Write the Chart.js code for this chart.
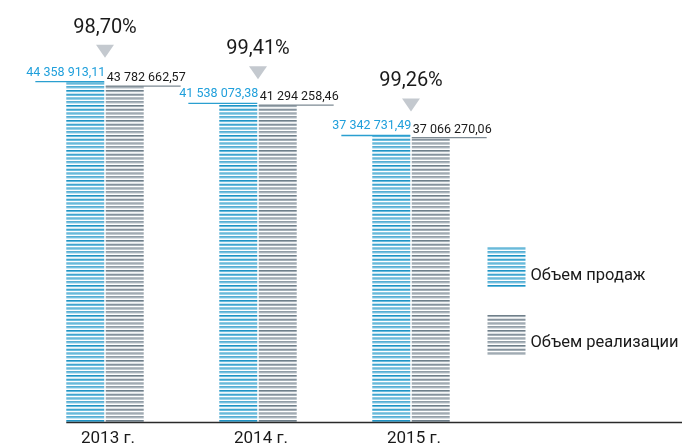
<!DOCTYPE html>
<html>
<head>
<meta charset="utf-8">
<script src="https://cdn.jsdelivr.net/npm/chart.js@4"></script>
<style>
html,body{margin:0;padding:0;background:#fff;}
#wrap{width:682px;height:447px;position:relative;}
</style>
</head>
<body>
<div id="wrap"><canvas id="c" width="682" height="447"></canvas></div>
<script>
const categories = ['2013 г.', '2014 г.', '2015 г.'];
const salesVolume = [44358913.11, 41538073.38, 37342731.49];
const realizationVolume = [43782662.57, 41294258.46, 37066270.06];
const percentLabels = ['98,70%', '99,41%', '99,26%'];
const seriesNames = ['Объем продаж', 'Объем реализации'];

const FONT = 'Roboto, "Noto Sans", sans-serif';

function fmt(v) {
  const [i, d] = v.toFixed(2).split('.');
  return i.replace(/\B(?=(\d{3})+(?!\d))/g, ' ') + ',' + d;
}

function makePattern(dark, light) {
  const t = document.createElement('canvas');
  t.width = 4; t.height = 15;
  const g = t.getContext('2d');
  [0, 3.75, 7.5, 11.25].forEach(s => {
    g.fillStyle = dark; g.fillRect(0, s, 4, 1.1);
    g.fillStyle = light; g.fillRect(0, s + 1.1, 4, 1.0);
  });
  return document.getElementById('c').getContext('2d').createPattern(t, 'repeat');
}
const bluePat = makePattern('#1f93c4', '#55b3da');
const grayPat = makePattern('#6f7f8a', '#97a4ac');

const labelPlugin = {
  id: 'labels',
  afterDatasetsDraw(chart) {
    const ctx = chart.ctx;
    const mb = chart.getDatasetMeta(0).data;
    const mg = chart.getDatasetMeta(1).data;
    ctx.save();
    // axis line
    const left = mb[0].x - mb[0].width / 2;
    ctx.strokeStyle = '#2a2a2a';
    ctx.lineWidth = 1.5;
    ctx.beginPath();
    ctx.moveTo(left, chart.chartArea.bottom + 0.5);
    ctx.lineTo(682, chart.chartArea.bottom + 0.5);
    ctx.stroke();

    const vf = '12.5px ' + FONT;
    ctx.font = vf;
    ctx.textBaseline = 'alphabetic';
    for (let i = 0; i < categories.length; i++) {
      const b = mb[i], g = mg[i];
      const bRight = b.x + b.width / 2;
      const gLeft = g.x - g.width / 2;
      // blue label
      const bt = fmt(salesVolume[i]);
      const bw = ctx.measureText(bt).width;
      ctx.fillStyle = '#1f9fdb';
      ctx.textAlign = 'right';
      ctx.fillText(bt, bRight + 1, b.y - 6);
      ctx.strokeStyle = '#2a9fd0';
      ctx.lineWidth = 1.3;
      ctx.beginPath();
      ctx.moveTo(bRight - bw + 10, b.y);
      ctx.lineTo(bRight, b.y);
      ctx.stroke();
      // gray label
      const gt = fmt(realizationVolume[i]);
      const gw = ctx.measureText(gt).width;
      ctx.fillStyle = '#1a1a1a';
      ctx.textAlign = 'left';
      ctx.fillText(gt, gLeft + 1, g.y - 5);
      ctx.strokeStyle = '#7d8a93';
      ctx.beginPath();
      ctx.moveTo(gLeft, g.y);
      ctx.lineTo(gLeft + gw - 4, g.y);
      ctx.stroke();
      // triangle + percent
      const cx = (b.x + g.x) / 2;
      const triBottom = b.y - 24;
      const triTop = triBottom - 13;
      ctx.fillStyle = '#c4c9cf';
      ctx.beginPath();
      ctx.moveTo(cx - 9, triTop);
      ctx.lineTo(cx + 9, triTop);
      ctx.lineTo(cx, triBottom);
      ctx.closePath();
      ctx.fill();
      ctx.fillStyle = '#1a1a1a';
      ctx.textAlign = 'center';
      ctx.font = '20px ' + FONT;
      ctx.fillText(percentLabels[i], cx, triTop - 12);
      ctx.font = vf;
    }

    // legend
    const lx = chart.chartArea.right;
    const items = [
      {pat: bluePat, y: 247, ty: 276},
      {pat: grayPat, y: 315, ty: 343}
    ];
    ctx.font = '16.5px ' + FONT;
    ctx.textAlign = 'left';
    ctx.textBaseline = 'middle';
    items.forEach((it, k) => {
      ctx.fillStyle = it.pat;
      ctx.fillRect(lx, it.y, 38, 40);
      ctx.fillStyle = '#1a1a1a';
      ctx.fillText(seriesNames[k], lx + 43, it.ty);
    });
    ctx.restore();
  }
};

new Chart(document.getElementById('c'), {
  type: 'bar',
  data: {
    labels: categories,
    datasets: [
      {label: seriesNames[0], data: salesVolume, backgroundColor: bluePat, borderWidth: 0},
      {label: seriesNames[1], data: realizationVolume, backgroundColor: grayPat, borderWidth: 0}
    ]
  },
  options: {
    responsive: false,
    animation: false,
    events: [],
    layout: {padding: {left: 28.5, right: 194.5, top: 0, bottom: 0}},
    datasets: {bar: {categoryPercentage: 0.516, barPercentage: 0.962}},
    plugins: {legend: {display: false}, tooltip: {enabled: false}},
    scales: {
      x: {
        grid: {display: false, drawTicks: false},
        border: {display: false},
        afterFit(scale) { scale.height = 25; },
        ticks: {color: '#1a1a1a', padding: 8, labelOffset: 3, font: {family: FONT, size: 17, lineHeight: 1.0}}
      },
      y: {display: false, min: 0, max: 55000000}
    }
  },
  plugins: [labelPlugin]
});
</script>
</body>
</html>
